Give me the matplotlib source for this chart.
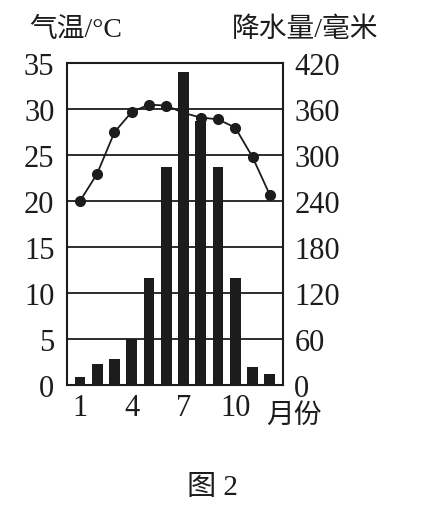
import matplotlib.pyplot as plt

# monthly climate data
months = list(range(1, 13))
temperature = [20, 23, 27.5, 29.7, 30.5, 30.4, 29.6, 29.1, 28.9, 28.0, 24.8, 20.7]
precipitation = [10, 28, 34, 60, 140, 285, 408, 345, 284, 140, 24, 15]

temp_ticks = [0, 5, 10, 15, 20, 25, 30, 35]
precip_ticks = [0, 60, 120, 180, 240, 300, 360, 420]
month_ticks = [1, 4, 7, 10]

FONT = ["Liberation Serif", "Noto Sans CJK SC"]
INK = "#1c1c1c"

plt.rcParams["font.family"] = FONT

fig = plt.figure(figsize=(4.24, 5.10), dpi=100)
ax = fig.add_axes([0.158, 0.243, 0.510, 0.631])
ax2 = ax.twinx()

# bars on the precipitation axis (ticks on the right)
ax.bar(months, precipitation, width=0.62, color=INK, zorder=2)
ax.set_ylim(0, 420)
ax.set_xlim(0.25, 12.78)
ax.set_yticks(precip_ticks)
ax.set_xticks(month_ticks)
ax.tick_params(axis="x", length=0, pad=6, labelsize=22, colors=INK)
for y in precip_ticks[1:-1]:
    ax.axhline(y, color=INK, lw=1.3, zorder=1)
for s in ax.spines.values():
    s.set_linewidth(1.5)
    s.set_color(INK)

# temperature line on a twin axis (ticks on the left)
ax2.plot(months, temperature, color=INK, lw=1.3, marker="o", ms=7, zorder=3)
ax2.set_ylim(0, 35)
ax2.set_yticks(temp_ticks)
for s in ax2.spines.values():
    s.set_visible(False)

ax.yaxis.set_ticks_position("right")
ax2.yaxis.set_ticks_position("left")
ax.tick_params(axis="y", which="both", length=0, pad=8, labelsize=22,
               colors=INK, labelleft=False, labelright=True)
ax2.tick_params(axis="y", which="both", length=0, pad=9, labelsize=22,
                colors=INK, labelleft=True, labelright=False)

fig.text(0.07, 0.94, "气温/°C", fontsize=20, color=INK, va="center", family=FONT)
fig.text(0.548, 0.94, "降水量/毫米", fontsize=20, color=INK, va="center", family=FONT)
fig.text(0.627, 0.184, "月份", fontsize=20, color=INK, va="center", family=FONT)
fig.text(0.5, 0.043, "图 2", fontsize=21, color=INK, ha="center", va="center", family=FONT)

fig.savefig("out.png", dpi=100)
